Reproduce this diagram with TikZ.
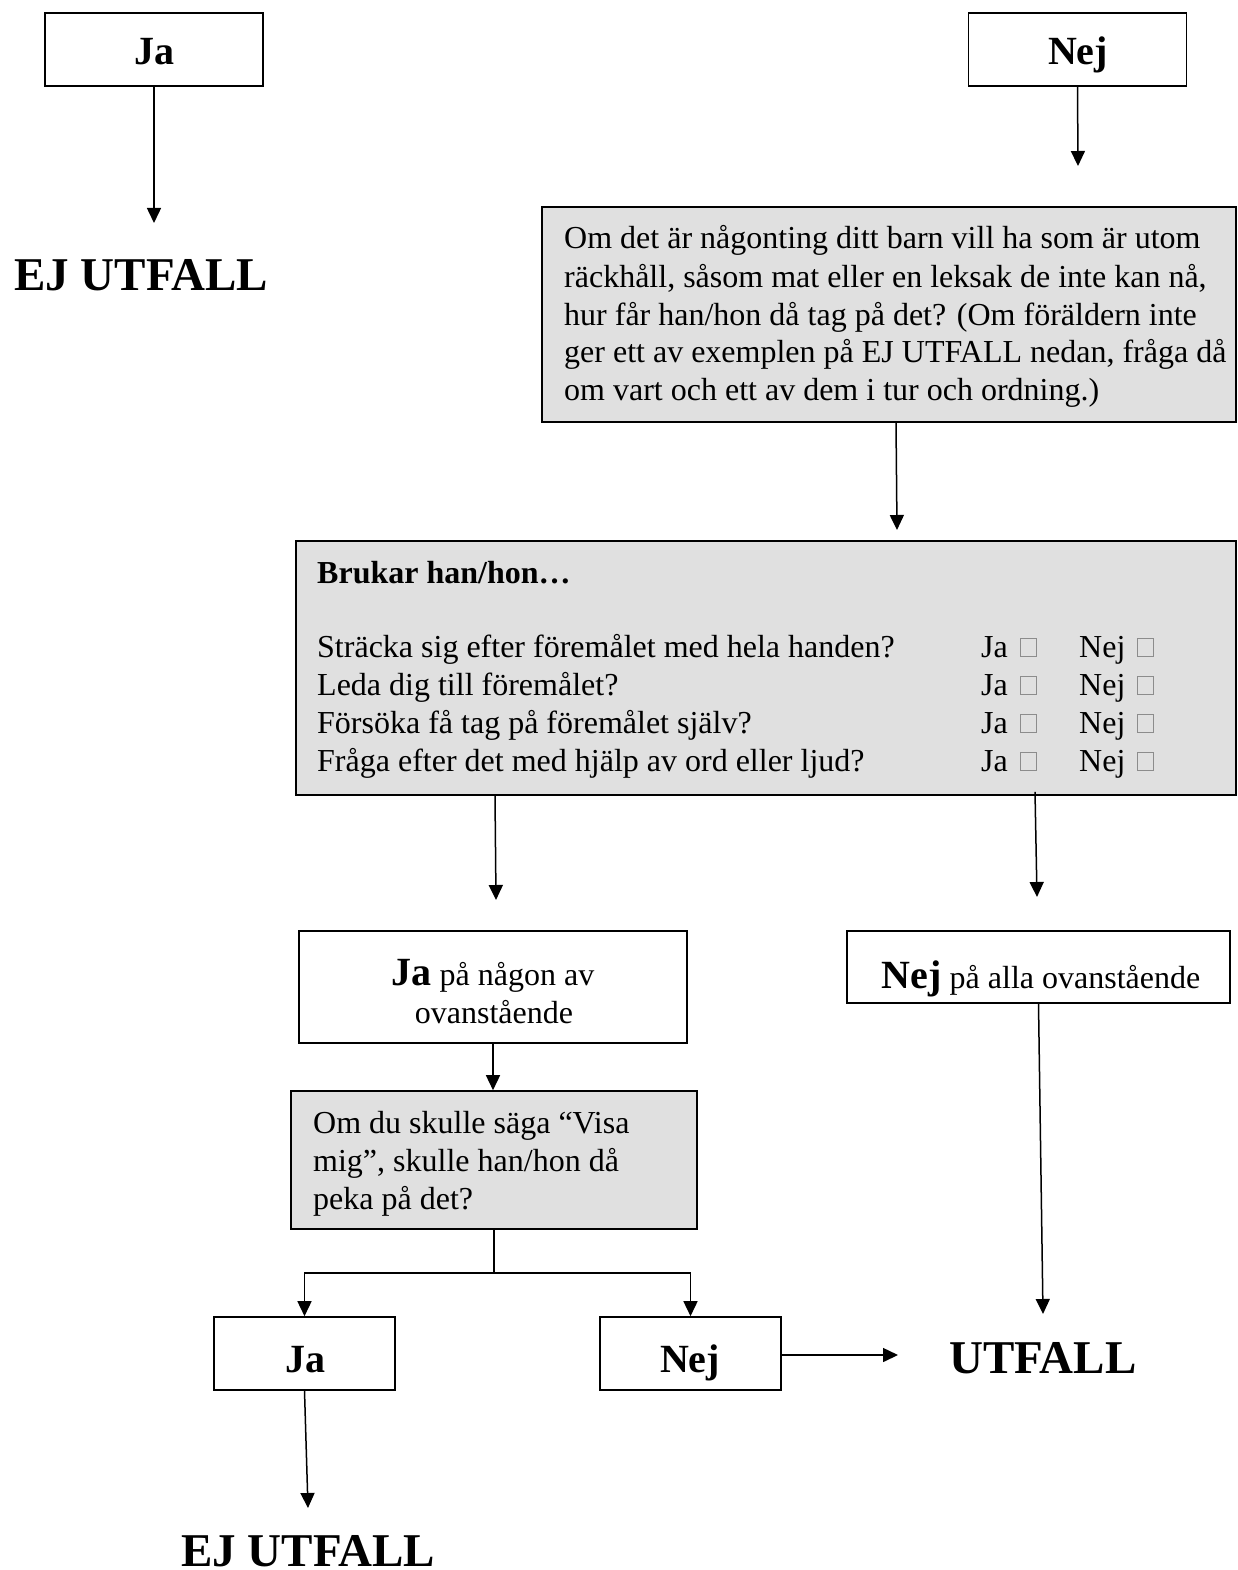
\documentclass[tikz,border=0pt]{standalone}
\usepackage{fontspec}
\setmainfont{Liberation Serif}
\usetikzlibrary{arrows.meta}
\definecolor{panel}{RGB}{224,224,224}
\definecolor{tickgray}{RGB}{140,140,140}
\begin{document}
\begin{tikzpicture}[x=1pt,y=-1pt,
  frame/.style={draw, line width=1.6pt, inner sep=0pt},
  panelbox/.style={frame, fill=panel},
  arr/.style={line width=1.5pt, -{Triangle[length=15pt,width=14pt]}},
  link/.style={line width=1.5pt},
  body/.style={inner sep=0pt, anchor=base west, font=\fontsize{32}{38}\selectfont},
  bodyc/.style={inner sep=0pt, anchor=base, font=\fontsize{32}{38}\selectfont},
  answer/.style={inner sep=0pt, anchor=base, font=\fontsize{40}{40}\selectfont\bfseries},
  verdict/.style={inner sep=0pt, anchor=base, font=\fontsize{47}{47}\selectfont\bfseries},
  tick/.style={draw=tickgray, line width=0.8pt}]
\useasboundingbox (0,0) rectangle (1238,1570);

% --- top answers ---
\node[frame, minimum width=218pt, minimum height=73pt] (ja1) at (154,49.5) {};
\node[answer] (ja1t) at (154,65) {Ja};
\node[frame, minimum width=218pt, minimum height=73pt] (nej1) at (1077.5,49.5) {};
\node[answer] (nej1t) at (1078,65) {Nej};

\node[verdict] (ej1) at (141,290) {EJ UTFALL};
\coordinate (ej1in) at (154,223);
\draw[arr] (ja1.south) -- (ej1in);

% --- first question ---
\node[panelbox, minimum width=694pt, minimum height=215pt] (q1) at (889,314.5) {};
\node[body] (q1l1) at (564,249) {Om det är någonting ditt barn vill ha som är utom};
\node[body] (q1l2) at (564,287) {räckhåll, såsom mat eller en leksak de inte kan nå,};
\node[body] (q1l3) at (564,325) {hur får han/hon då tag på det? (Om föräldern inte};
\node[body] (q1l4) at (564,362) {ger ett av exemplen på EJ UTFALL nedan, fråga då};
\node[body] (q1l5) at (564,400) {om vart och ett av dem i tur och ordning.)};
\coordinate (q1in) at (1078,166);
\draw[arr] (nej1.south) -- (q1in);

% --- checklist ---
\node[panelbox, minimum width=940pt, minimum height=254pt] (q2) at (766,668) {};
\node[body, font=\fontsize{32}{38}\selectfont\bfseries] (q2h) at (317,583) {Brukar han/hon…};
\coordinate (q2in) at (897,530);
\draw[arr] ([xshift=7pt]q1.south) -- (q2in);

\foreach \y/\t [count=\i] in {657/{Sträcka sig efter föremålet med hela handen?},
                              695/{Leda dig till föremålet?},
                              733/{Försöka få tag på föremålet själv?},
                              771/{Fråga efter det med hjälp av ord eller ljud?}} {
  \node[body] (row\i) at (317,\y) {\t};
  \node[body] (rowja\i) at (981,\y) {Ja};
  \draw[tick] (1020,\y-19) rectangle (1036,\y-1);
  \node[body] (rownej\i) at (1079,\y) {Nej};
  \draw[tick] (1137,\y-19) rectangle (1153,\y-1);
}

% --- outcomes of the checklist ---
\node[frame, minimum width=388pt, minimum height=112pt] (a1) at (493,987) {};
\node[bodyc] (a1l1) at (493,985) {{\fontsize{40}{40}\selectfont\bfseries Ja} på någon av};
\node[bodyc] (a1l2) at (494,1023) {ovanstående};
\node[frame, minimum width=383pt, minimum height=72pt] (b1) at (1038.5,967) {};
\node[bodyc] (b1l1) at (1041,988) {{\fontsize{40}{40}\selectfont\bfseries Nej} på alla ovanstående};

\coordinate (a1in) at (496,900);
\coordinate (b1in) at (1037,897);
\draw[arr] ([xshift=-271pt]q2.south) -- (a1in);
\draw[arr] ([xshift=269pt,yshift=4pt]q2.south) -- (b1in);

% --- pointing question ---
\node[panelbox, minimum width=406pt, minimum height=138pt] (q3) at (494,1160) {};
\node[body] (q3l1) at (313,1133) {Om du skulle säga “Visa};
\node[body] (q3l2) at (313,1171) {mig”, skulle han/hon då};
\node[body] (q3l3) at (313,1209) {peka på det?};
\draw[arr] (a1.south) -- (a1.south |- q3.north);

\node[frame, minimum width=181pt, minimum height=73pt] (ja2) at (304.5,1353.5) {};
\node[answer] (ja2t) at (305,1372) {Ja};
\node[frame, minimum width=181pt, minimum height=73pt] (nej2) at (690.5,1353.5) {};
\node[answer] (nej2t) at (690,1372) {Nej};

\coordinate (fork) at (494,1273);
\draw[link] (q3.south) -- (fork);
\draw[arr] (fork) -| (ja2.north);
\draw[arr] (fork) -| (nej2.north);

% --- final verdicts ---
\node[verdict] (utf) at (1043,1373) {UTFALL};
\coordinate (utfl) at (898,1355);
\coordinate (utft) at (1043,1314);
\draw[arr] (nej2.east |- utfl) -- (utfl);
\draw[arr] (b1.south) -- (utft);

\node[verdict] (ej2) at (308,1566) {EJ UTFALL};
\coordinate (ej2in) at (308,1508);
\draw[arr] (ja2.south) -- (ej2in);
\end{tikzpicture}
\end{document}
